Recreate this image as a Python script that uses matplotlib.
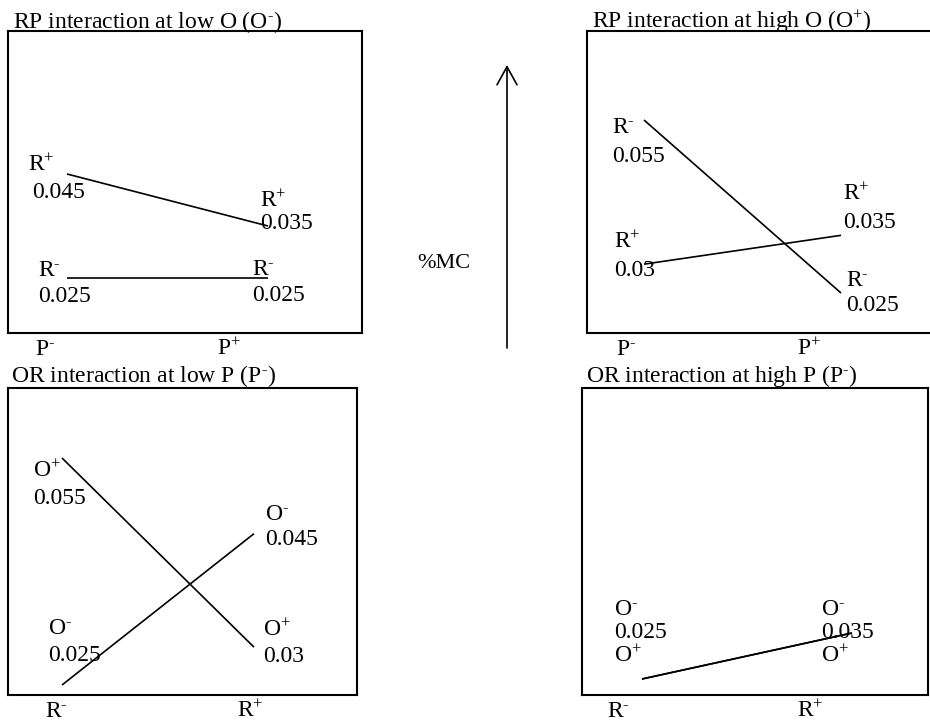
import matplotlib
matplotlib.use("Agg")
import matplotlib.pyplot as plt

# ---------------- data ----------------
p_levels = ["-", "+"]          # x categories of the RP panels (P-, P+)
r_levels = ["-", "+"]          # x categories of the OR panels (R-, R+)

rp_lowO_Rplus = [0.045, 0.035]
rp_lowO_Rminus = [0.025, 0.025]
rp_highO_Rminus = [0.055, 0.025]
rp_highO_Rplus = [0.030, 0.035]
or_lowP_Oplus = [0.055, 0.030]
or_lowP_Ominus = [0.025, 0.045]
or_highP_Ominus = [0.025, 0.035]
or_highP_Oplus = [0.025, 0.035]

titles = [
    ("RP interaction at low O (O", "-", ")"),
    ("RP interaction at high O (O", "+", ")"),
    ("OR interaction at low P (P", "-", ")"),
    ("OR interaction at high P (P", "-", ")"),
]
y_axis_label = "%MC"

# ---------------- style ----------------
plt.rcParams["font.family"] = ["Liberation Serif", "DejaVu Serif"]
plt.rcParams["mathtext.fontset"] = "custom"
plt.rcParams["mathtext.rm"] = "Liberation Serif"
plt.rcParams["mathtext.it"] = "Liberation Serif:italic"
plt.rcParams["mathtext.bf"] = "Liberation Serif:bold"
FS = 17
W, H = 930, 722


def sup(base, sign):
    return base + r"$^{\text{" + sign + "}}$"


fig = plt.figure(figsize=(W / 100, H / 100), dpi=100)


def make_panel(box, xpix, ymap):
    L, T, R, B = box
    ax = fig.add_axes([L / W, 1 - B / H, (R - L) / W, (B - T) / H])
    ax.set_facecolor("none")
    x0p, x1p = xpix
    sx = x1p - x0p
    ax.set_xlim((L - x0p) / sx, (R - x0p) / sx)
    (va, pa), (vb, pb) = ymap
    sy = (pa - pb) / (vb - va)
    ax.set_ylim(va + (pa - B) / sy, va + (pa - T) / sy)
    ax.set_xticks([])
    ax.set_yticks([])
    for s in ax.spines.values():
        s.set_linewidth(1.5)
        s.set_color("black")
    return ax


x = [0, 1]
line_kw = dict(color="black", lw=1.2, solid_capstyle="butt")

ax1 = make_panel((8, 31, 362, 333), (67, 268), ((0.045, 174), (0.025, 278)))
ax1.plot(x, rp_lowO_Rplus, **line_kw)
ax1.plot(x, rp_lowO_Rminus, **line_kw)

ax2 = make_panel((587, 31, 934, 333), (644, 841), ((0.055, 120), (0.025, 293)))
ax2.plot(x, rp_highO_Rminus, **line_kw)
ax2.plot(x, rp_highO_Rplus, **line_kw)

ax3 = make_panel((8, 388, 357, 695), (62, 254), ((0.055, 458), (0.025, 685)))
ax3.plot(x, or_lowP_Oplus, **line_kw)
ax3.plot(x, or_lowP_Ominus, **line_kw)

ax4 = make_panel((582, 388, 928, 695), (642, 852), ((0.025, 679), (0.035, 633)))
ax4.plot(x, or_highP_Ominus, **line_kw)
ax4.plot(x, or_highP_Oplus, **line_kw)

# overlay canvas in pixel coordinates for annotations
cv = fig.add_axes([0, 0, 1, 1])
cv.set_xlim(0, W)
cv.set_ylim(H, 0)
cv.axis("off")
cv.set_facecolor("none")


def t(xp, yp, s, fs=FS):
    cv.text(xp, yp, s, fontsize=fs, ha="left", va="baseline", color="black")


def fmt(v):
    return f"{v:g}"


# titles
title_pos = [(13, 28), (592, 28), (11, 382), (586, 382)]
for (a, sgn, b), (xp, yp) in zip(titles, title_pos):
    t(xp, yp, sup(a, sgn) + b)

# x category labels
t(35, 355, sup("P", p_levels[0]))
t(217, 355, sup("P", p_levels[1]))
t(616, 355, sup("P", p_levels[0]))
t(797, 355, sup("P", p_levels[1]))
t(45, 717, sup("R", r_levels[0]))
t(237, 717, sup("R", r_levels[1]))
t(607, 717, sup("R", r_levels[0]))
t(797, 717, sup("R", r_levels[1]))

# panel 1 point labels
t(28, 171, sup("R", "+")); t(32, 198, fmt(rp_lowO_Rplus[0]))
t(260, 207, sup("R", "+")); t(260, 229, fmt(rp_lowO_Rplus[1]))
t(38, 276, sup("R", "-")); t(38, 302, fmt(rp_lowO_Rminus[0]))
t(252, 275, sup("R", "-")); t(252, 301, fmt(rp_lowO_Rminus[1]))

# panel 2 point labels
t(612, 133, sup("R", "-")); t(612, 162, fmt(rp_highO_Rminus[0]))
t(846, 286, sup("R", "-")); t(846, 311, fmt(rp_highO_Rminus[1]))
t(614, 248, sup("R", "+")); t(614, 276, fmt(rp_highO_Rplus[0]))
t(843, 200, sup("R", "+")); t(843, 228, fmt(rp_highO_Rplus[1]))

# panel 3 point labels
t(33, 477, sup("O", "+")); t(33, 504, fmt(or_lowP_Oplus[0]))
t(263, 636, sup("O", "+")); t(263, 662, fmt(or_lowP_Oplus[1]))
t(48, 634, sup("O", "-")); t(48, 661, fmt(or_lowP_Ominus[0]))
t(265, 520, sup("O", "-")); t(265, 545, fmt(or_lowP_Ominus[1]))

# panel 4 point labels
t(614, 615, sup("O", "-")); t(614, 638, fmt(or_highP_Ominus[0])); t(614, 662, sup("O", "+"))
t(821, 615, sup("O", "-")); t(821, 638, fmt(or_highP_Ominus[1])); t(821, 662, sup("O", "+"))

# central arrow and axis label
cv.annotate("", xy=(507, 65), xytext=(507, 348),
            arrowprops=dict(arrowstyle="->,head_length=1.3,head_width=0.72",
                            lw=1.2, color="black", shrinkA=0, shrinkB=0,
                            mutation_scale=10))
t(417, 268, y_axis_label, fs=16)

fig.savefig("out.png", dpi=100, facecolor="white")
